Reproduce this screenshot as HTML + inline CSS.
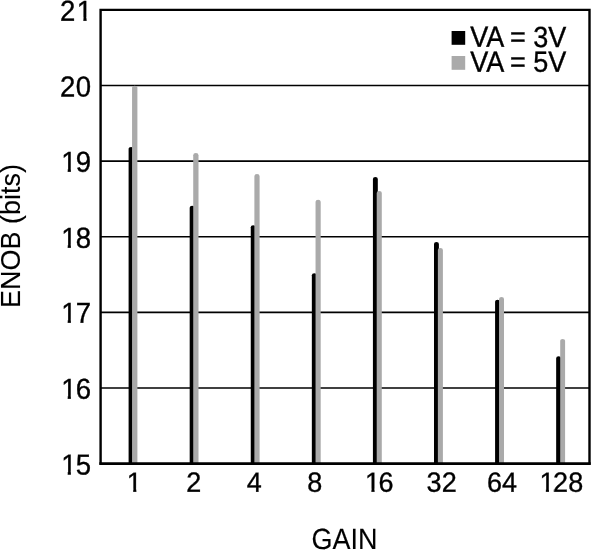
<!DOCTYPE html>
<html lang="en"><head><meta charset="utf-8"><title>ENOB vs GAIN</title>
<style>html,body{margin:0;padding:0;background:#fff}svg{display:block}text{font-family:"Liberation Sans",Arial,Helvetica,sans-serif;font-size:27px;fill:#000;stroke:#000}</style></head><body>
<svg width="607" height="550" viewBox="0 0 607 550">
<defs><clipPath id="c21e"><path d="M-60 -40H60V-2.87H-4.65V8H-7.74V-2.87H-15.88V8H-31.25V-2.87H-60Z"/></clipPath><clipPath id="c19e"><path d="M-60 -40H60V-2.87H-0.50V8H-14.88V-2.87H-20.03V8H-23.11V-2.87H-60Z"/></clipPath><clipPath id="c18e"><path d="M-60 -40H60V-2.87H-0.50V8H-14.88V-2.87H-20.03V8H-23.11V-2.87H-60Z"/></clipPath><clipPath id="c17e"><path d="M-60 -40H60V-2.87H-0.50V8H-14.88V-2.87H-20.03V8H-23.11V-2.87H-60Z"/></clipPath><clipPath id="c16e"><path d="M-60 -40H60V-2.87H-0.50V8H-14.88V-2.87H-20.03V8H-23.11V-2.87H-60Z"/></clipPath><clipPath id="c15e"><path d="M-60 -40H60V-2.87H-0.50V8H-14.88V-2.87H-20.03V8H-23.11V-2.87H-60Z"/></clipPath><clipPath id="c1m"><path d="M-60 -40H60V-2.87H3.47V8H0.38V-2.87H-60Z"/></clipPath><clipPath id="c16m"><path d="M-60 -40H60V-2.87H14.62V8H0.50V-2.87H-4.09V8H-7.18V-2.87H-60Z"/></clipPath><clipPath id="c128m"><path d="M-60 -40H60V-2.87H22.17V8H-7.06V-2.87H-11.65V8H-14.73V-2.87H-60Z"/></clipPath></defs>
<rect width="607" height="550" fill="#fff"/>
<line x1="100.6" x2="589.5" y1="85.50" y2="85.50" stroke="#000" stroke-width="1.6"/>
<line x1="100.6" x2="589.5" y1="161.12" y2="161.12" stroke="#000" stroke-width="1.6"/>
<line x1="100.6" x2="589.5" y1="236.75" y2="236.75" stroke="#000" stroke-width="1.6"/>
<line x1="100.6" x2="589.5" y1="312.38" y2="312.38" stroke="#000" stroke-width="1.6"/>
<line x1="100.6" x2="589.5" y1="388.00" y2="388.00" stroke="#000" stroke-width="1.6"/>
<path d="M128.60 463.62V148.86A2.45 1.96 0 0 1 133.50 148.86V463.62Z" fill="#000"/>
<path d="M132.05 463.62V87.99A2.67 2.14 0 0 1 137.40 87.99V463.62Z" fill="#aaa"/>
<path d="M189.68 463.62V207.66A2.45 1.96 0 0 1 194.58 207.66V463.62Z" fill="#000"/>
<path d="M193.22 463.62V155.21A2.64 2.11 0 0 1 198.50 155.21V463.62Z" fill="#aaa"/>
<path d="M250.76 463.62V227.26A2.45 1.96 0 0 1 255.66 227.26V463.62Z" fill="#000"/>
<path d="M254.38 463.62V176.19A2.61 2.09 0 0 1 259.60 176.19V463.62Z" fill="#aaa"/>
<path d="M311.84 463.62V275.26A2.45 1.96 0 0 1 316.74 275.26V463.62Z" fill="#000"/>
<path d="M315.55 463.62V201.66A2.58 2.06 0 0 1 320.70 201.66V463.62Z" fill="#aaa"/>
<path d="M372.92 463.62V179.06A2.45 1.96 0 0 1 377.82 179.06V463.62Z" fill="#000"/>
<path d="M376.71 463.62V192.94A2.54 2.04 0 0 1 381.80 192.94V463.62Z" fill="#aaa"/>
<path d="M434.00 463.62V243.96A2.45 1.96 0 0 1 438.90 243.96V463.62Z" fill="#000"/>
<path d="M437.88 463.62V250.01A2.51 2.01 0 0 1 442.90 250.01V463.62Z" fill="#aaa"/>
<path d="M495.08 463.62V301.66A2.45 1.96 0 0 1 499.98 301.66V463.62Z" fill="#000"/>
<path d="M499.04 463.62V299.08A2.48 1.98 0 0 1 504.00 299.08V463.62Z" fill="#aaa"/>
<path d="M556.16 463.62V358.16A2.45 1.96 0 0 1 561.06 358.16V463.62Z" fill="#000"/>
<path d="M560.20 463.62V340.86A2.45 1.96 0 0 1 565.10 340.86V463.62Z" fill="#aaa"/>
<path d="M100.6 464.625V9.875H589.5V464.625" fill="none" stroke="#000" stroke-width="2.4"/>
<line x1="99.40" x2="590.70" y1="463.55" y2="463.55" stroke="#000" stroke-width="2.7"/>
<text transform="translate(91.30 20.65) rotate(0.03) scale(1.02 1.07)" x="-30.75 -14.18" y="0" stroke-width="0.35" clip-path="url(#c21e)">21</text>
<text transform="translate(91.30 96.47) rotate(0.03) scale(1.02 1.07)" x="-30.75 -15.38" y="0" stroke-width="0.35">20</text>
<text transform="translate(91.30 171.85) rotate(0.03) scale(1.02 1.07)" x="-29.55 -15.38" y="0" stroke-width="0.35" clip-path="url(#c19e)">19</text>
<text transform="translate(91.30 247.66) rotate(0.03) scale(1.02 1.07)" x="-29.55 -15.38" y="0" stroke-width="0.35" clip-path="url(#c18e)">18</text>
<text transform="translate(91.30 322.86) rotate(0.03) scale(1.02 1.07)" x="-29.55 -15.38" y="0" stroke-width="0.35" clip-path="url(#c17e)">17</text>
<text transform="translate(91.30 398.80) rotate(0.03) scale(1.02 1.07)" x="-29.55 -15.38" y="0" stroke-width="0.35" clip-path="url(#c16e)">16</text>
<text transform="translate(91.30 474.40) rotate(0.03) scale(1.02 1.07)" x="-29.55 -15.38" y="0" stroke-width="0.35" clip-path="url(#c15e)">15</text>
<text transform="translate(132.85 491.80) rotate(0.03) scale(1.0 1.03)" x="-6.06" y="0" stroke-width="0.35" clip-path="url(#c1m)">1</text>
<text transform="translate(193.92 491.80) rotate(0.03) scale(1.0 1.03)" x="-7.56" y="0" stroke-width="0.35">2</text>
<text transform="translate(254.19 491.80) rotate(0.03) scale(1.0 1.03)" x="-7.56" y="0" stroke-width="0.35">4</text>
<text transform="translate(314.74 491.80) rotate(0.03) scale(1.0 1.03)" x="-7.56" y="0" stroke-width="0.35">8</text>
<text transform="translate(378.62 491.80) rotate(0.03) scale(1.0 1.03)" x="-13.62 0.00" y="0" stroke-width="0.35" clip-path="url(#c16m)">16</text>
<text transform="translate(441.70 491.80) rotate(0.03) scale(1.0 1.03)" x="-15.12 0.00" y="0" stroke-width="0.35">32</text>
<text transform="translate(502.08 491.80) rotate(0.03) scale(1.0 1.03)" x="-15.12 0.00" y="0" stroke-width="0.35">64</text>
<text transform="translate(560.61 491.80) rotate(0.03) scale(1.0 1.03)" x="-21.17 -7.56 7.56" y="0" stroke-width="0.35" clip-path="url(#c128m)">128</text>
<text transform="translate(344.40 549.00) rotate(0.03) scale(1 1.083)" text-anchor="middle" stroke-width="0.1">GAIN</text>
<text transform="translate(19.7 236.0) rotate(-90) scale(1 1.055)" text-anchor="middle" stroke-width="0.1">ENOB (bits)</text>
<rect x="451.6" y="31" width="13.6" height="13.8" fill="#000"/>
<rect x="451.6" y="56" width="13.6" height="13.8" fill="#aaa"/>
<text transform="translate(470.30 46.85) rotate(0.03) scale(1 1.08)" text-anchor="start" stroke-width="0.35">VA <tspan x="39.7">=</tspan> <tspan x="62.9">3V</tspan></text>
<text transform="translate(470.30 71.75) rotate(0.03) scale(1 1.08)" text-anchor="start" stroke-width="0.35">VA <tspan x="39.7">=</tspan> <tspan x="62.9">5V</tspan></text>
</svg></body></html>
